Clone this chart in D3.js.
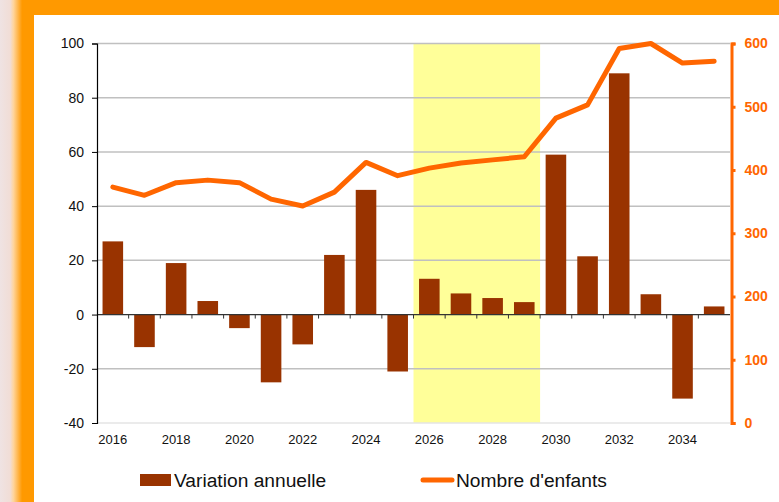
<!DOCTYPE html>
<html>
<head>
<meta charset="utf-8">
<script src="https://cdn.jsdelivr.net/npm/d3@7"></script>
<style>
  body { margin: 0; background: #fff; }
  svg { display: block; font-family: "Liberation Sans", Arial, sans-serif; }
</style>
</head>
<body>
<svg id="chart" width="779" height="502"></svg>
<script>
const years = d3.range(2016, 2036);
const variation = [27, -12, 19, 5, -5, -25, -11, 22, 46, -21, 13.2, 7.8, 6.1, 4.6, 59, 21.5, 89, 7.5, -31, 3];
const enfants = [373, 360, 380, 384, 380, 354, 343, 365, 412, 391, 403, 411, 416, 421, 482, 503, 592, 600, 569, 572];
const leftTicks = [-40, -20, 0, 20, 40, 60, 80, 100];
const rightTicks = [0, 100, 200, 300, 400, 500, 600];
const highlightYears = [2026, 2029];

const width = 779, height = 502;
const margin = { top: 43.5, right: 49, bottom: 79, left: 97 };

const svg = d3.select('#chart');

// cadre orange
const defs = svg.append('defs');
const grad = defs.append('linearGradient').attr('id', 'edge').attr('x1', 0).attr('x2', 1);
grad.append('stop').attr('offset', '0%').attr('stop-color', '#efe3e3');
grad.append('stop').attr('offset', '30%').attr('stop-color', '#f1ddd6');
grad.append('stop').attr('offset', '40%').attr('stop-color', '#ffd49a');
grad.append('stop').attr('offset', '65%').attr('stop-color', '#ff9900');
grad.append('stop').attr('offset', '100%').attr('stop-color', '#ff9900');

svg.append('rect').attr('x', 0).attr('y', 0).attr('width', width).attr('height', height).attr('fill', '#ff9900');
svg.append('rect').attr('x', 0).attr('y', 0).attr('width', 34).attr('height', height).attr('fill', 'url(#edge)');
svg.append('rect').attr('x', 34).attr('y', 15).attr('width', width - 34).attr('height', height - 15).attr('fill', '#fff');

const x = d3.scaleBand()
  .domain(years)
  .range([margin.left, width - margin.right])
  .paddingInner(0.35)
  .paddingOuter(0.175);

const yLeft = d3.scaleLinear().domain([-40, 100]).range([height - margin.bottom, margin.top]);
const yRight = d3.scaleLinear().domain([0, 600]).range([height - margin.bottom, margin.top]);

const step = x.step();
const bandStart = d => x(d) - x.paddingInner() * step / 2;

// zone surlignée
svg.append('rect')
  .attr('x', bandStart(highlightYears[0]))
  .attr('y', yLeft(100))
  .attr('width', bandStart(highlightYears[1]) + step - bandStart(highlightYears[0]))
  .attr('height', yLeft(-40) - yLeft(100))
  .attr('fill', '#ffff99');

// grille
svg.append('g')
  .selectAll('line')
  .data(leftTicks.filter(d => d !== 0))
  .join('line')
    .attr('x1', margin.left)
    .attr('x2', width - margin.right)
    .attr('y1', d => yLeft(d))
    .attr('y2', d => yLeft(d))
    .attr('stroke', d => d === -40 ? '#e4e4e4' : '#c0c0c0')
    .attr('stroke-width', 1.5);

// barres
svg.append('g')
  .selectAll('rect')
  .data(years)
  .join('rect')
    .attr('x', d => x(d))
    .attr('width', x.bandwidth())
    .attr('y', (d, i) => yLeft(Math.max(0, variation[i])))
    .attr('height', (d, i) => Math.abs(yLeft(variation[i]) - yLeft(0)))
    .attr('fill', '#993300');

// axe des x sur le zéro
svg.append('line')
  .attr('x1', margin.left).attr('x2', width - margin.right)
  .attr('y1', yLeft(0)).attr('y2', yLeft(0))
  .attr('stroke', '#333').attr('stroke-width', 1.2);

svg.append('g')
  .selectAll('line')
  .data(years.slice(1))
  .join('line')
    .attr('x1', d => bandStart(d)).attr('x2', d => bandStart(d))
    .attr('y1', yLeft(0)).attr('y2', yLeft(0) + 4)
    .attr('stroke', '#333');

svg.append('g')
  .selectAll('text')
  .data(years.filter(d => d % 2 === 0))
  .join('text')
    .attr('x', d => x(d) + x.bandwidth() / 2)
    .attr('y', yLeft(-40) + 21)
    .attr('text-anchor', 'middle')
    .attr('font-size', '13px')
    .attr('fill', '#111')
    .text(d => d);

// axe gauche
const leftAxis = svg.append('g')
  .attr('transform', `translate(${margin.left},0)`)
  .call(d3.axisLeft(yLeft).tickValues(leftTicks).tickFormat(d => String(d)).tickSize(5).tickPadding(8));
leftAxis.select('.domain').attr('stroke', '#000').attr('stroke-width', 1.2);
leftAxis.selectAll('.tick line').attr('stroke', '#000');
leftAxis.selectAll('text').attr('font-size', '14px').attr('fill', '#111').attr('font-family', '"Liberation Sans", Arial, sans-serif');

// courbe
const line = d3.line()
  .x((d, i) => x(years[i]) + x.bandwidth() / 2)
  .y(d => yRight(d));

svg.append('path')
  .datum(enfants)
  .attr('d', line)
  .attr('fill', 'none')
  .attr('stroke', '#ff6600')
  .attr('stroke-width', 5)
  .attr('stroke-linejoin', 'round')
  .attr('stroke-linecap', 'round');

// axe droit
const rightAxis = svg.append('g')
  .attr('transform', `translate(${width - margin.right + 1.5},0)`)
  .call(d3.axisRight(yRight).tickValues(rightTicks).tickSize(4).tickSizeOuter(4).tickPadding(9));
rightAxis.select('.domain').attr('stroke', '#ff6600').attr('stroke-width', 3);
rightAxis.selectAll('.tick line').attr('stroke', '#ff6600').attr('stroke-width', 3);
rightAxis.selectAll('text')
  .attr('font-size', '14px')
  .attr('font-weight', 'bold')
  .attr('fill', '#ff6600')
  .attr('font-family', '"Liberation Sans", Arial, sans-serif');

// légende
const legend = svg.append('g');
legend.append('rect')
  .attr('x', 140).attr('y', 474).attr('width', 31).attr('height', 12)
  .attr('fill', '#993300');
legend.append('text')
  .attr('x', 174).attr('y', 487)
  .attr('font-size', '19.2px').attr('fill', '#111')
  .text('Variation annuelle');
legend.append('line')
  .attr('x1', 423).attr('x2', 452).attr('y1', 480).attr('y2', 480)
  .attr('stroke', '#ff6600').attr('stroke-width', 5).attr('stroke-linecap', 'round');
legend.append('text')
  .attr('x', 456).attr('y', 487)
  .attr('font-size', '19.2px').attr('fill', '#111')
  .text("Nombre d'enfants");
</script>
</body>
</html>
